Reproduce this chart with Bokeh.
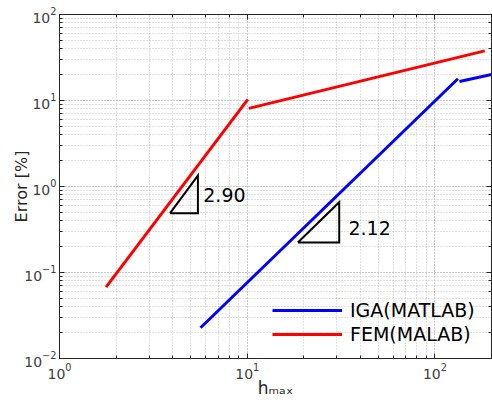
from bokeh.plotting import figure
from bokeh.models import LogAxis, Legend, LegendItem, Label, CustomJSTickFormatter
from bokeh.embed import file_html
from bokeh.resources import INLINE

# ---- data ----
iga_h_1 = [5.64, 132.5]
iga_err_1 = [0.0228, 17.9]
iga_h_2 = [135.0, 200.0]
iga_err_2 = [16.6, 20.1]

fem_h_1 = [1.77, 10.07]
fem_err_1 = [0.0675, 10.3]
fem_h_2 = [10.2, 184.0]
fem_err_2 = [8.1, 37.8]

fem_tri_h = [3.88, 5.46, 5.46, 3.88]
fem_tri_err = [0.49, 0.49, 1.34, 0.49]
iga_tri_h = [18.6, 30.9, 30.9, 18.6]
iga_tri_err = [0.223, 0.223, 0.657, 0.223]

slope_labels = ["2.90", "2.12"]
legend_labels = ["IGA(MATLAB)", "FEM(MALAB)"]
x_label = "h\u2098\u2090\u2093"
y_label = "Error [%]"

FONT = "DejaVu Sans"
AX = "#262626"
GRID = "#c4c4c4"

p = figure(width=492, height=400, x_axis_type="log", y_axis_type="log",
           x_range=(1, 200), y_range=(0.01, 100),
           output_backend="svg", toolbar_location=None,
           min_border_left=59, min_border_right=1, min_border_top=14, min_border_bottom=42)
p.background_fill_color = "white"
p.border_fill_color = "white"
p.outline_line_color = AX
p.outline_line_width = 1

for g in (p.xgrid, p.ygrid):
    g.grid_line_color = GRID
    g.grid_line_dash = "1 2"
    g.minor_grid_line_color = GRID
    g.minor_grid_line_dash = "1 2"


def style_axis(ax):
    ax.major_tick_in = 5
    ax.major_tick_out = 0
    ax.minor_tick_in = 3
    ax.minor_tick_out = 0
    ax.axis_line_color = AX
    ax.major_tick_line_color = AX
    ax.minor_tick_line_color = AX
    ax.major_label_text_font = FONT
    ax.major_label_text_font_size = "14px"
    ax.major_label_text_color = "#404040"


for ax in list(p.xaxis) + list(p.yaxis):
    style_axis(ax)

p.xaxis.major_label_standoff = 4
p.xaxis.axis_label = x_label
p.xaxis.axis_label_text_font = FONT
p.xaxis.axis_label_text_font_size = "17px"
p.xaxis.axis_label_text_font_style = "normal"
p.xaxis.axis_label_text_color = AX
p.xaxis.axis_label_standoff = -4

p.yaxis.major_label_standoff = 3
p.yaxis.axis_label = y_label
p.yaxis.axis_label_text_font = FONT
p.yaxis.axis_label_text_font_size = "16px"
p.yaxis.axis_label_text_font_style = "normal"
p.yaxis.axis_label_text_color = AX
p.yaxis.axis_label_standoff = -10

blank = CustomJSTickFormatter(code="return ''")
top = LogAxis(formatter=blank)
right = LogAxis(formatter=blank)
for ax in (top, right):
    style_axis(ax)
    ax.major_label_standoff = 0
    ax.major_label_text_font_size = "0px"
p.add_layout(top, "above")
p.add_layout(right, "right")

# ---- series ----
LW = 3
r_iga1 = p.line(iga_h_1, iga_err_1, line_color="#0000ff", line_width=LW)
p.line(iga_h_2, iga_err_2, line_color="#0000ff", line_width=LW)
r_fem1 = p.line(fem_h_1, fem_err_1, line_color="#ff0000", line_width=LW)
p.line(fem_h_2, fem_err_2, line_color="#ff0000", line_width=LW)

# ---- slope triangles ----
p.line(fem_tri_h, fem_tri_err, line_color="black", line_width=2, line_join="miter")
p.line(iga_tri_h, iga_tri_err, line_color="black", line_width=2, line_join="miter")
p.add_layout(Label(x=5.83, y=0.786, text=slope_labels[0], text_baseline="middle",
                   text_font=FONT, text_font_size="19px", text_color="black"))
p.add_layout(Label(x=34.6, y=0.333, text=slope_labels[1], text_baseline="middle",
                   text_font=FONT, text_font_size="19px", text_color="black"))

legend = Legend(items=[LegendItem(label=legend_labels[0], renderers=[r_iga1]),
                       LegendItem(label=legend_labels[1], renderers=[r_fem1])],
                location=(213, 13), padding=0, margin=0, spacing=2,
                glyph_width=70, glyph_height=20, label_height=20, label_standoff=8,
                label_text_font=FONT, label_text_font_size="19px", label_text_color="black",
                border_line_alpha=0, background_fill_alpha=0)
p.add_layout(legend)

open("out.html", "w").write(file_html(p, INLINE))
